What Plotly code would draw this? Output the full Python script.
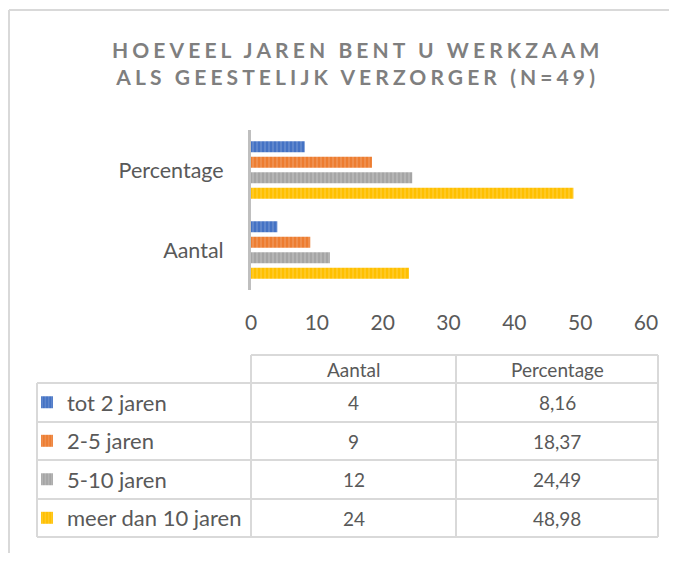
import plotly.graph_objects as go

# reference canvas size; page body adds an 8px margin around the plot div
REF_W, REF_H = 677, 561
OFF = 8
W, H = REF_W - 2 * OFF, REF_H - 2 * OFF

categories = ["Percentage", "Aantal"]
series_names = ["tot 2 jaren", "2-5 jaren", "5-10 jaren", "meer dan 10 jaren"]
aantal = [4, 9, 12, 24]
percentage = [8.16, 18.37, 24.49, 48.98]
x_ticks = [0, 10, 20, 30, 40, 50, 60]
table_columns = ["Aantal", "Percentage"]

base_colors = ["#4472C4", "#ED7D31", "#A5A5A5", "#FFC000"]
stripe_colors = ["#8EAADB", "#F4B183", "#D0D0D0", "#FFD966"]

FONT = "Lato"
TXT = "#595959"


def px(x):
    return (x - OFF) / W


def py(y):
    return 1 - (y - OFF) / H


fig = go.Figure()

for i, name in enumerate(series_names):
    fig.add_trace(go.Bar(
        orientation="h",
        y=categories,
        x=[percentage[i], aantal[i]],
        name=name,
        marker=dict(
            color=base_colors[i],
            line=dict(width=0),
            pattern=dict(shape="|", size=4, solidity=0.35,
                         fgcolor=stripe_colors[i], bgcolor=base_colors[i],
                         fillmode="overlay"),
        ),
        legend="legend" if i == 0 else f"legend{i + 1}",
        hoverinfo="skip",
    ))

col_x = [37, 251, 456, 658]
row_y = [355, 383, 422, 460, 499, 537]
line_col = "#D9D9D9"
shapes = []
shapes.append(dict(type="line", xref="paper", yref="paper", x0=px(9), x1=px(REF_W + 10),
                   y0=py(10), y1=py(10), line=dict(color=line_col, width=2)))
shapes.append(dict(type="line", xref="paper", yref="paper", x0=px(9), x1=px(9),
                   y0=py(10), y1=py(REF_H + 10), line=dict(color=line_col, width=2)))
shapes.append(dict(type="line", xref="paper", yref="paper", x0=px(col_x[1]), x1=px(col_x[3]),
                   y0=py(row_y[0]), y1=py(row_y[0]), line=dict(color=line_col, width=2)))
for yy in row_y[1:]:
    shapes.append(dict(type="line", xref="paper", yref="paper", x0=px(col_x[0]), x1=px(col_x[3]),
                       y0=py(yy), y1=py(yy), line=dict(color=line_col, width=2)))
shapes.append(dict(type="line", xref="paper", yref="paper", x0=px(col_x[0]), x1=px(col_x[0]),
                   y0=py(row_y[1]), y1=py(row_y[-1]), line=dict(color=line_col, width=2)))
for xx in col_x[1:]:
    shapes.append(dict(type="line", xref="paper", yref="paper", x0=px(xx), x1=px(xx),
                       y0=py(row_y[0]), y1=py(row_y[-1]), line=dict(color=line_col, width=2)))

annotations = []
title_style = "letter-spacing:4.1px"
annotations.append(dict(
    xref="paper", yref="paper", x=px(358), y=py(63), xanchor="center", yanchor="middle",
    text=(f"<span style='{title_style}'><b>HOEVEEL JAREN BENT U WERKZAAM</b></span><br>"
          f"<span style='{title_style}'><b>ALS GEESTELIJK VERZORGER (N=49)</b></span>"),
    showarrow=False, font=dict(family=FONT, size=21, color="#7F7F7F"), align="center",
))

TFS = 19
LFS = 22
col_centers = [(col_x[1] + col_x[2]) / 2, (col_x[2] + col_x[3]) / 2]
for j, col in enumerate(table_columns):
    annotations.append(dict(xref="paper", yref="paper", x=px(col_centers[j]),
                            y=py((row_y[0] + row_y[1]) / 2), xanchor="center", yanchor="middle",
                            text=col, showarrow=False,
                            font=dict(family=FONT, size=TFS, color=TXT)))


def fmt(v):
    if isinstance(v, int):
        return str(v)
    return f"{v:.2f}".replace(".", ",")


for i in range(len(series_names)):
    yc = (row_y[i + 1] + row_y[i + 2]) / 2
    annotations.append(dict(xref="paper", yref="paper", x=px(col_centers[0]), y=py(yc),
                            xanchor="center", yanchor="middle",
                            text=fmt(aantal[i]), showarrow=False,
                            font=dict(family=FONT, size=TFS, color=TXT)))
    annotations.append(dict(xref="paper", yref="paper", x=px(col_centers[1]), y=py(yc),
                            xanchor="center", yanchor="middle",
                            text=fmt(percentage[i]), showarrow=False,
                            font=dict(family=FONT, size=TFS, color=TXT)))

legend_layouts = {}
for i in range(len(series_names)):
    yc = (row_y[i + 1] + row_y[i + 2]) / 2
    key = "legend" if i == 0 else f"legend{i + 1}"
    legend_layouts[key] = dict(
        x=px(27), y=py(yc), xanchor="left", yanchor="middle",
        bgcolor="rgba(0,0,0,0)", borderwidth=0,
        font=dict(family=FONT, size=LFS, color=TXT),
        itemclick=False, itemdoubleclick=False,
    )

fig.update_layout(
    width=W, height=H,
    margin=dict(l=0, r=0, t=0, b=0, autoexpand=False),
    paper_bgcolor="white", plot_bgcolor="white",
    barmode="group", bargap=0.225, bargroupgap=0.29,
    showlegend=True,
    font=dict(family=FONT, color=TXT),
    xaxis=dict(domain=[px(251), px(646)], range=[0, 60], tickvals=x_ticks,
               showgrid=False, zeroline=False, showline=False, automargin=False,
               tickfont=dict(family=FONT, size=21, color=TXT),
               anchor="y", ticklabelstandoff=18),
    yaxis=dict(domain=[py(290), py(130)], autorange="reversed",
               categoryorder="array", categoryarray=categories,
               showgrid=False, zeroline=False, showline=True, automargin=False,
               linecolor="#BFBFBF", linewidth=3,
               tickfont=dict(family=FONT, size=21.5, color=TXT),
               ticklabelstandoff=20),
    shapes=shapes,
    annotations=annotations,
    **legend_layouts,
)

fig.write_html("out.html")
